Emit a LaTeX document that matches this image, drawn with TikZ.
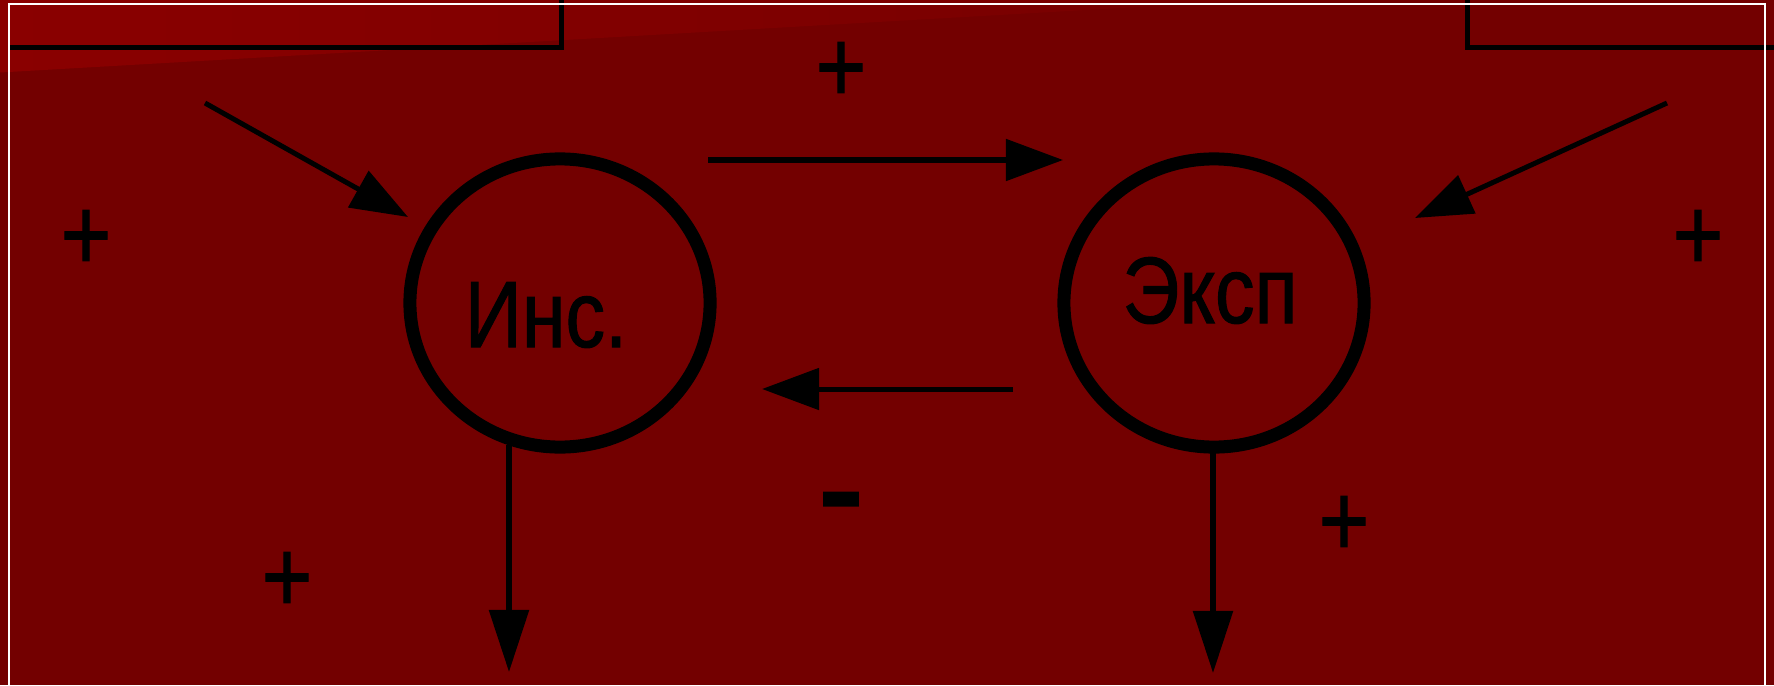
\documentclass[tikz,border=0pt]{standalone}
\usepackage{fontspec}
\setmainfont[FakeBold=1.2]{Liberation Sans}
\usepackage{graphicx}
\usetikzlibrary{arrows.meta,shapes.geometric}
\definecolor{bgred}{RGB}{115,0,0}
\definecolor{bandl}{RGB}{138,0,0}
\definecolor{bandr}{RGB}{119,0,0}
\begin{document}
\begin{tikzpicture}[x=0.01cm,y=-0.01cm,
  conn/.style={line width=0.05cm, -{Triangle[length=0.57cm,width=0.41cm]}},
  vconn/.style={line width=0.055cm, -{Triangle[length=0.62cm,width=0.39cm]}},
  ring/.style={draw, ellipse, line width=0.13cm, minimum width=3cm, minimum height=2.88cm, inner sep=0pt},
  lbl/.style={font=\fontsize{26.8}{30}\selectfont, inner sep=0pt, anchor=base},
  sign/.style={font=\fontsize{29.3}{32}\selectfont, inner sep=0pt},
  minus/.style={font=\fontsize{47}{50}\selectfont, inner sep=0pt, anchor=base},
  boxline/.style={line width=0.05cm},
  frameline/.style={white, line width=0.02cm}]
\useasboundingbox (0,0) rectangle (1774,685);
\clip (0,0) rectangle (1774,685);
\fill[bgred] (0,0) rectangle (1774,685);
\shade[left color=bandl, right color=bandr] (0,0) -- (1260,0) -- (0,72.5) -- cycle;
% black box edges
\draw[boxline] (9,48) -- (561,48) -- (561,0);
\draw[boxline] (1467,0) -- (1467,48) -- (1774,48);
% white frame
\draw[frameline] (9,690) -- (9,4) -- (1765,4) -- (1765,690);
% circles
\node[ring] (inc) at (560,303) {};
\node[ring] (exp) at (1214,303) {};
\node[lbl] (inctext) at (546,347) {\scalebox{0.84}[1]{Инс.}};
\node[lbl] (exptext) at (1210,323) {\scalebox{0.84}[1]{Эксп}};
% arrow end points
\coordinate (a1s) at (205,103); \coordinate (a1e) at (408,217);
\coordinate (a2s) at (708,160); \coordinate (a2e) at (1063,160);
\coordinate (a3s) at (1013,389); \coordinate (a3e) at (762,389);
\coordinate (a4s) at (1667,103); \coordinate (a4e) at (1415,218);
\coordinate (a5s) at (509,445); \coordinate (a5e) at (509,672);
\coordinate (a6s) at (1213,452); \coordinate (a6e) at (1213,673);
\draw[conn] (a1s) -- (a1e);
\draw[conn] (a2s) -- (a2e);
\draw[conn] (a3s) -- (a3e);
\draw[conn] (a4s) -- (a4e);
\draw[vconn] (a5s) -- (a5e);
\draw[vconn] (a6s) -- (a6e);
% signs
\node[sign] (p1) at (86,240) {\scalebox{0.84}[1]{+}};
\node[sign] (p2) at (841,72) {\scalebox{0.84}[1]{+}};
\node[sign] (p3) at (1698,240) {\scalebox{0.84}[1]{+}};
\node[sign] (p4) at (287,582) {\scalebox{0.84}[1]{+}};
\node[sign] (p5) at (1344,526) {\scalebox{0.84}[1]{+}};
\node[minus] (m1) at (841,543) {\scalebox{0.84}[1]{-}};
\end{tikzpicture}
\end{document}
